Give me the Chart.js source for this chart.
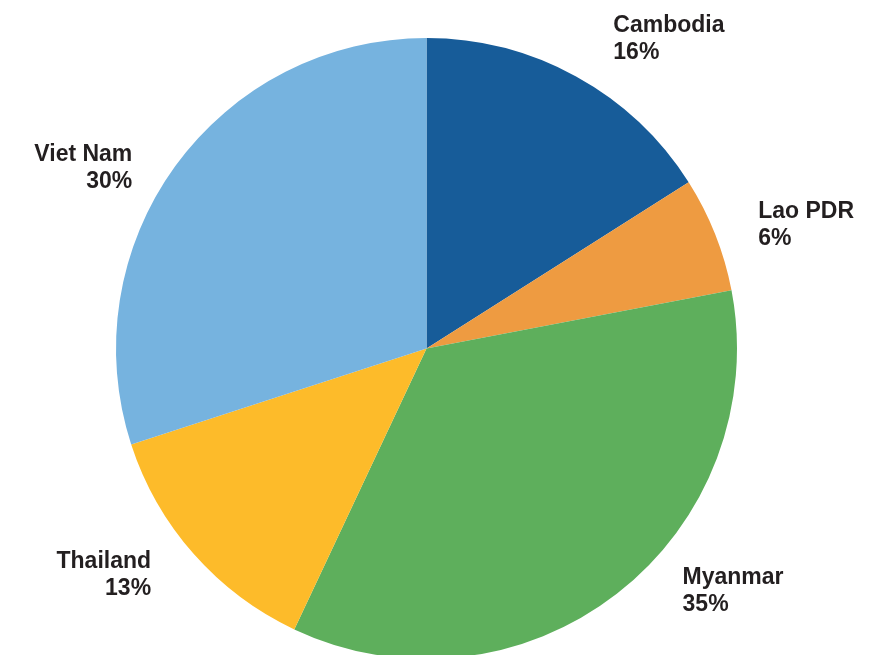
<!DOCTYPE html>
<html>
<head>
<meta charset="utf-8">
<script src="https://cdn.jsdelivr.net/npm/chart.js@4"></script>
<style>
html,body{margin:0;padding:0;background:#fff;overflow:hidden;}
#wrap{width:875px;height:700px;}
</style>
</head>
<body>
<div id="wrap"><canvas id="c" width="875" height="700"></canvas></div>
<script>
const categories = ["Cambodia", "Lao PDR", "Myanmar", "Thailand", "Viet Nam"];
const shares = [16, 6, 35, 13, 30];
const colors = ["#175c99", "#ee9b41", "#5eaf5c", "#fdbb2a", "#76b3df"];
// label fine-tuning offsets (px) from the mid-angle anchor
const labelNudge = [[17, -3], [4, 4], [40, -38], [-11, -9], [-9, 25]];

const labelPlugin = {
  id: 'outLabels',
  afterDatasetsDraw(chart) {
    const ctx = chart.ctx;
    const meta = chart.getDatasetMeta(0);
    const total = shares.reduce((a, b) => a + b, 0);
    ctx.save();
    ctx.font = 'bold 23px "Liberation Sans", Arial, sans-serif';
    ctx.fillStyle = '#231f20';
    ctx.textBaseline = 'alphabetic';
    meta.data.forEach((arc, i) => {
      const p = arc.getProps(['x', 'y', 'startAngle', 'endAngle', 'outerRadius'], true);
      const mid = (p.startAngle + p.endAngle) / 2;
      const r = p.outerRadius + 42;
      const ax = p.x + Math.cos(mid) * r + labelNudge[i][0];
      const ay = p.y + Math.sin(mid) * r + labelNudge[i][1];
      const right = Math.cos(mid) >= 0;
      ctx.textAlign = right ? 'left' : 'right';
      const pct = Math.round(shares[i] / total * 100) + '%';
      ctx.fillText(categories[i], ax, ay - 5);
      ctx.fillText(pct, ax, ay + 22);
    });
    ctx.restore();
  }
};

new Chart(document.getElementById('c'), {
  type: 'pie',
  data: {
    labels: categories,
    datasets: [{
      data: shares,
      backgroundColor: colors,
      borderWidth: 0,
      hoverOffset: 0
    }]
  },
  options: {
    responsive: false,
    animation: false,
    devicePixelRatio: 1,
    layout: { padding: { left: 116, right: 138, top: 38, bottom: 41 } },
    plugins: {
      legend: { display: false },
      tooltip: { enabled: false }
    }
  },
  plugins: [labelPlugin]
});
</script>
</body>
</html>
